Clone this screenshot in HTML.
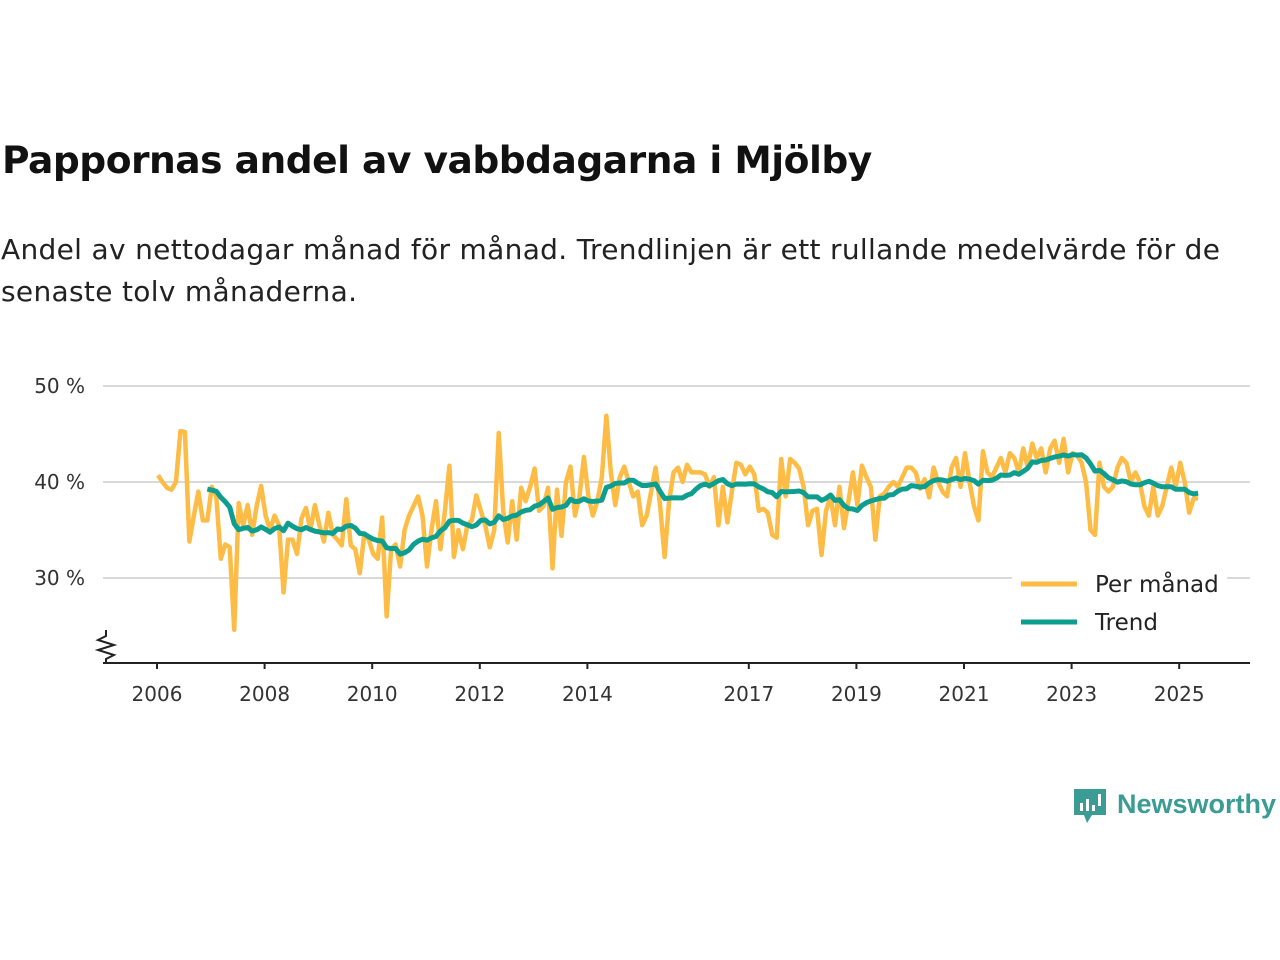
<!DOCTYPE html>
<html><head><meta charset="utf-8">
<style>
body{margin:0;background:#fff;width:1280px;height:960px;overflow:hidden;font-family:"Liberation Sans","DejaVu Sans",sans-serif;}
#title{position:absolute;left:2px;top:138px;font-size:37.6px;font-weight:bold;color:#111;margin:0;font-family:"DejaVu Sans","Liberation Sans",sans-serif;letter-spacing:-0.5px}
#sub{position:absolute;left:1px;top:229px;font-size:28px;color:#222;line-height:42px;width:1240px;font-family:"DejaVu Sans","Liberation Sans",sans-serif;letter-spacing:0.32px}
svg{position:absolute;left:0;top:0}
</style></head><body>
<h1 id="title">Pappornas andel av vabbdagarna i Mjölby</h1>
<div id="sub">Andel av nettodagar månad för månad. Trendlinjen är ett rullande medelvärde för de senaste tolv månaderna.</div>
<svg id="chart" width="1280" height="960"></svg>
<script>
const yTicks=[30,40,50];
const yTickLabels=["30 %","40 %","50 %"];
const xTickYears=[2006,2008,2010,2012,2014,2017,2019,2021,2023,2025];
const startYear=2006;
const monthly=[
40.7,40,39.4,39.2,40,45.3,45.2,33.8,36.5,39,36,36,
39.5,38.5,32,33.5,33.2,24.6,37.8,35.5,37.6,34.5,37.5,39.6,
36.5,35,36.5,35.5,28.5,34,34,32.5,36.2,37.3,35,37.6,
35.5,33.8,36.8,34.5,34,33.4,38.2,33.4,33,30.5,34.5,34,
32.5,32,36.3,26,33,33.5,31.2,35,36.5,37.5,38.5,36.5,
31.2,35,38,33,37,41.7,32.2,35,33,35.5,36,38.6,
37,35.5,33.2,35,45.1,37,33.7,38,34,39.4,38,39.5,
41.4,37,37.5,39.4,31,39.2,34.4,40,41.6,36.5,38.5,42.6,
38.5,36.5,38,40.5,46.9,41,37.6,40.5,41.6,40,38.5,39,
35.5,36.5,39,41.5,37.5,32.2,38,41,41.5,40,41.8,41,
41,41,40.8,39.5,40.5,35.5,39.5,35.8,39,42,41.8,40.8,
41.6,40.8,37,37.2,36.8,34.5,34.2,42.4,38.5,42.4,42,41.4,
39.5,35.5,37,37.2,32.4,37,38.5,35.5,39.5,35.2,38,41,
37.6,41.7,40.5,39.5,34,38.5,38.8,39.5,40,39.5,40.5,41.5,
41.5,41,39.3,40.3,38.4,41.5,40,39,38.5,41.5,42.5,39.5,
43,40,37.5,36,43.2,41,40.5,41.5,42.5,41,43,42.5,
41,43.5,41.5,44,42.5,43.5,41,43.5,44.3,42,44.5,41,
43,42.8,42,40,35,34.5,42,39.5,39,39.5,41.5,42.5,
42,40,41,40,37.5,36.5,39.5,36.5,37.5,39.5,41.5,39.5,
42,40,36.8,38.3,38.3];
const trend=monthly.map((v,i)=>{if(i<11)return null;let s=0;for(let k=i-11;k<=i;k++)s+=monthly[k];return s/12;});

const NS="http://www.w3.org/2000/svg";
const svg=document.getElementById('chart');
const X0=157, PXY=53.8;
const xm=i=>X0+1+i*PXY/12;
const xy=yr=>X0+(yr-startYear)*PXY;
const yv=v=>482-(v-40)*9.6;
function mk(t,a,p){const e=document.createElementNS(NS,t);for(const k in a)e.setAttribute(k,a[k]);(p||svg).appendChild(e);return e;}

yTicks.forEach((t,i)=>{
  const g=mk('line',{x1:103,x2:1250,y1:yv(t),y2:yv(t),stroke:'#d9d9d9','stroke-width':2});
  
  
  const l=mk('text',{x:85,y:yv(t)+7,'text-anchor':'end','font-size':20,fill:'#333','font-family':'DejaVu Sans, Liberation Sans, sans-serif'});
  l.textContent=yTickLabels[i];
  
  
});
const ax=mk('line',{x1:103,x2:1250,y1:663,y2:663,stroke:'#222','stroke-width':2});


const br=mk('path',{d:'M106,630 L106,636 L98,640 L114,645 L98,650 L114,655 L106,659 L106,663',fill:'none',stroke:'#222','stroke-width':2});


xTickYears.forEach(yr=>{
  const x=xy(yr);
  const t=mk('line',{x1:x,x2:x,y1:663,y2:669,stroke:'#222','stroke-width':2});
  
  
  const l=mk('text',{x:x,y:701,'text-anchor':'middle','font-size':20,fill:'#333','font-family':'DejaVu Sans, Liberation Sans, sans-serif'});
  l.textContent=yr;
  
  
});
const pm=mk('polyline',{points:monthly.map((v,i)=>xm(i)+','+yv(v)).join(' '),fill:'none',stroke:'#fdbc45','stroke-width':4.5,'stroke-linejoin':'round'});


const tp=[];trend.forEach((v,i)=>{if(v!==null)tp.push(xm(i)+','+yv(v));});
const tl=mk('polyline',{points:tp.join(' '),fill:'none',stroke:'#0e9e90','stroke-width':5,'stroke-linejoin':'round'});


[['Per månad','#fdbc45',584],['Trend','#0e9e90',622]].forEach(([n,c,y])=>{
  const bg=mk('rect',{x:1012,y:y-18,width:215,height:36,fill:'#fff'});
  
  
  const l=mk('line',{x1:1021,x2:1077,y1:y,y2:y,stroke:c,'stroke-width':5});
  
  
  const t=mk('text',{x:1095,y:y+8,'font-size':23,fill:'#222','font-family':'DejaVu Sans, Liberation Sans, sans-serif'});
  t.textContent=n;
  
  
});
const lg=mk('g',{});


mk('path',{d:'M1074,789 h32 v26 h-14 l-5,8 l-3,-8 h-10 z',fill:'#3a9c94'},lg);
mk('rect',{x:1080,y:803,width:3,height:8,fill:'#fff'},lg);
mk('rect',{x:1086,y:799,width:3,height:12,fill:'#fff'},lg);
mk('rect',{x:1092,y:805,width:3,height:6,fill:'#fff'},lg);
mk('rect',{x:1098,y:794,width:3,height:12,fill:'#fff'},lg);
const lt=mk('text',{x:1117,y:813,'font-size':27,'font-weight':'bold',fill:'#3a9c94','font-family':'Liberation Sans, sans-serif'},lg);
lt.textContent='Newsworthy';


</script>
</body></html>
